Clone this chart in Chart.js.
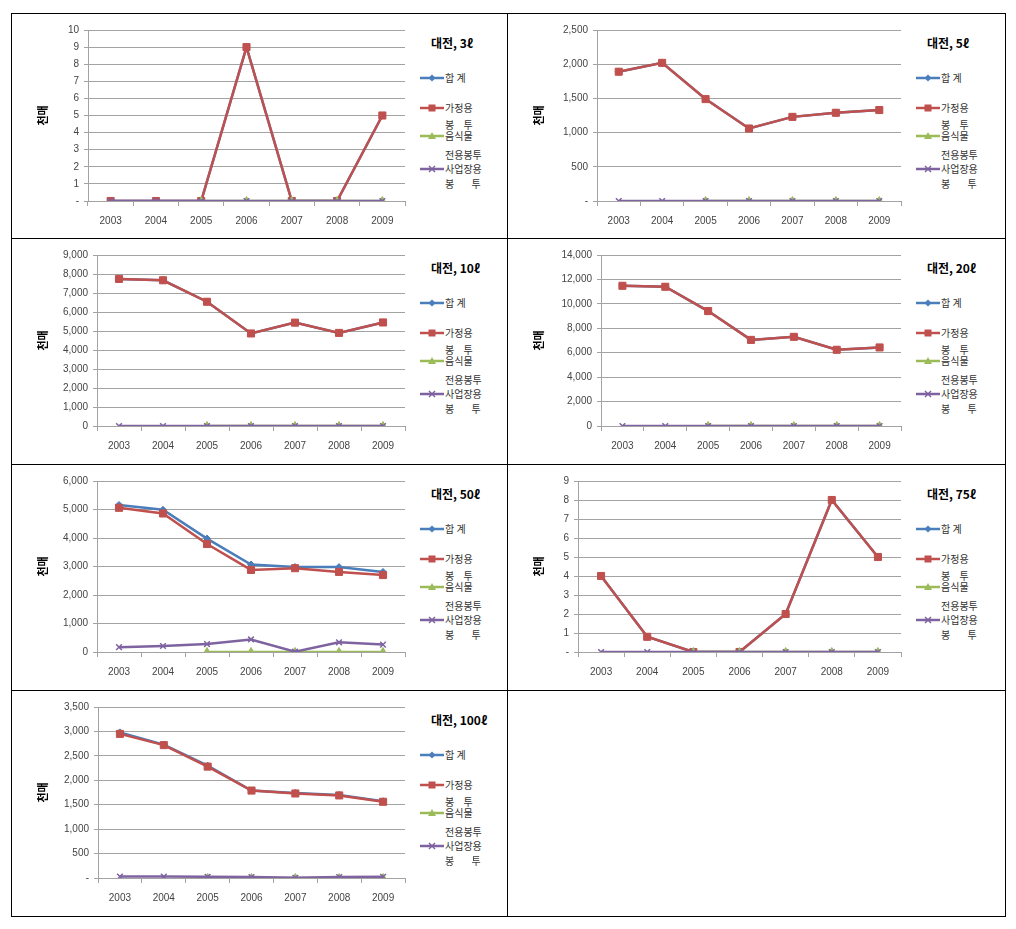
<!DOCTYPE html>
<html>
<head>
<meta charset="utf-8">
<script src="https://cdn.jsdelivr.net/npm/chart.js@4.4.1/dist/chart.umd.min.js"></script>
<style>
  html, body { margin:0; padding:0; background:#fff; }
  body { width:1016px; height:929px; position:relative; overflow:hidden; font-family:"Noto Sans CJK KR", "Liberation Sans", sans-serif; }
  .frame { position:absolute; left:11px; top:13px; width:995px; height:904px; border:1px solid #000; box-sizing:border-box; z-index:5; }
  .vline { position:absolute; width:1px; background:#000; z-index:5; }
  .hline { position:absolute; height:1px; background:#000; z-index:5; }
  .cell { position:absolute; width:496px; height:225px; }
  .cell canvas { position:absolute; left:0; top:0; }
  .ttl { position:absolute; left:420px; font-weight:bold; font-size:12px; color:#000; line-height:14px; white-space:nowrap; }
  .lt { position:absolute; left:434px; font-size:10px; color:#333; line-height:12px; white-space:nowrap; }
  .sym { position:absolute; left:409px; width:24px; height:12px; line-height:0; font-size:0; }
  .sym svg { display:block; }
</style>
</head>
<body>
<div class="frame"></div>
<div class="vline" style="left:507px; top:13px; height:904px;"></div>
<div class="hline" style="left:11px; top:238px; width:995px;"></div>
<div class="hline" style="left:11px; top:464px; width:995px;"></div>
<div class="hline" style="left:11px; top:690px; width:995px;"></div>
<div id="root"></div>
<script>
// ---------- data ----------
const years = ['2003', '2004', '2005', '2006', '2007', '2008', '2009'];
const seriesNames = ['합 계', '가정용 봉 투', '음식물 전용봉투', '사업장용 봉 투'];
const chartTitles = ['대전, 3ℓ', '대전, 5ℓ', '대전, 10ℓ', '대전, 20ℓ', '대전, 50ℓ', '대전, 75ℓ', '대전, 100ℓ'];
const yAxisTitle = '천매';
const yMax = [10, 2500, 9000, 14000, 6000, 9, 3500];
const yStep = [1, 500, 1000, 2000, 1000, 1, 500];
const zeroLabel = ['-', '-', '0', '0', '0', '-', '-'];

const total3 = [0, 0, 0, 9, 0, 0, 5];
const household3 = [0, 0, 0, 9, 0, 0, 5];
const food3 = [null, null, 0, 0, 0, 0, 0];
const business3 = [0, 0, 0, 0, 0, 0, 0];

const total5 = [1890, 2020, 1490, 1060, 1230, 1290, 1330];
const household5 = [1890, 2020, 1490, 1060, 1230, 1290, 1330];
const food5 = [null, null, 0, 0, 0, 0, 0];
const business5 = [0, 0, 0, 0, 0, 0, 0];

const total10 = [7740, 7670, 6540, 4870, 5440, 4900, 5450];
const household10 = [7740, 7670, 6540, 4870, 5440, 4900, 5450];
const food10 = [null, null, 0, 0, 0, 0, 0];
const business10 = [0, 0, 0, 0, 0, 0, 0];

const total20 = [11480, 11400, 9410, 7050, 7300, 6240, 6430];
const household20 = [11480, 11400, 9410, 7050, 7300, 6240, 6430];
const food20 = [null, null, 0, 0, 0, 0, 0];
const business20 = [0, 0, 0, 0, 0, 0, 0];

const total50 = [5160, 4990, 3980, 3070, 2980, 2980, 2810];
const household50 = [5060, 4860, 3790, 2880, 2940, 2810, 2700];
const food50 = [null, null, 0, 0, 0, 0, 0];
const business50 = [170, 210, 280, 440, 10, 340, 260];

const total75 = [4, 0.8, 0, 0, 2, 8, 5];
const household75 = [4, 0.8, 0, 0, 2, 8, 5];
const food75 = [null, null, 0, 0, 0, 0, 0];
const business75 = [0, 0, 0, 0, 0, 0, 0];

const total100 = [2980, 2730, 2300, 1790, 1740, 1700, 1570];
const household100 = [2950, 2720, 2280, 1790, 1730, 1690, 1560];
const food100 = [null, null, 0, 0, 0, 0, 0];
const business100 = [30, 30, 25, 20, 5, 20, 25];

const chartSeries = [
  [total3, household3, food3, business3],
  [total5, household5, food5, business5],
  [total10, household10, food10, business10],
  [total20, household20, food20, business20],
  [total50, household50, food50, business50],
  [total75, household75, food75, business75],
  [total100, household100, food100, business100]
];

// legend text as wrapped in the original
const legendLines = [['합 계'], ['가정용', '봉 투'], ['음식물', '전용봉투'], ['사업장용', '봉 투']];

// ---------- layout / style ----------
const cellLeft = [11, 507, 11, 507, 11, 507, 11];
const cellTop = [13, 13, 238, 238, 464, 464, 690];
const plotLeft = [77, 90, 86, 94, 86, 71, 87];
const legendY = [65, 95, 123, 156];
const legendY2 = [null, 112, 142, 171];
const legendWordSpacing = [0, 7, 0, 15];
const colors = ['#4A7EBB', '#C0504D', '#9BBB59', '#7E63A0'];
const pointStyles = ['rectRot', 'rect', 'triangle', 'crossRot'];
const pointRadii = [3.5, 5, 4.5, 4];
const drawOrder = [3, 2, 1, 0];
const gridColor = '#a3a3a3';
const numFont = '"Liberation Sans", Arial, sans-serif';
const korFont = '"Noto Sans CJK KR", sans-serif';

function symbolSVG(k) {
  const c = colors[k];
  let m = '';
  if (k === 0) m = `<polygon points="12,2.5 15.5,6 12,9.5 8.5,6" fill="${c}"/>`;
  if (k === 1) m = `<rect x="8.5" y="2.5" width="7" height="7" fill="${c}"/>`;
  if (k === 2) m = `<polygon points="12,2 16,9 8,9" fill="${c}"/>`;
  if (k === 3) m = `<path d="M9 3 L15 9 M15 3 L9 9" stroke="${c}" stroke-width="1.5"/>`;
  return `<svg width="24" height="12" viewBox="0 0 24 12"><line x1="0" y1="6" x2="24" y2="6" stroke="${c}" stroke-width="2.5"/>${m}</svg>`;
}

const root = document.getElementById('root');
chartTitles.forEach((title, i) => {
  const cell = document.createElement('div');
  cell.className = 'cell';
  cell.style.left = cellLeft[i] + 'px';
  cell.style.top = cellTop[i] + 'px';
  const cv = document.createElement('canvas');
  cv.width = 400; cv.height = 224;
  cv.style.width = '400px'; cv.style.height = '224px';
  cell.appendChild(cv);

  const t = document.createElement('div');
  t.className = 'ttl';
  t.style.top = (30 - 7) + 'px';
  t.textContent = title;
  cell.appendChild(t);

  legendLines.forEach((lines, k) => {
    const s = document.createElement('div');
    s.className = 'sym';
    s.style.top = (legendY[k] - 6) + 'px';
    s.innerHTML = symbolSVG(k);
    cell.appendChild(s);
    const a = document.createElement('div');
    a.className = 'lt';
    a.style.top = (legendY[k] - 6) + 'px';
    a.textContent = lines[0];
    cell.appendChild(a);
    if (lines[1]) {
      const b = document.createElement('div');
      b.className = 'lt';
      b.style.top = (legendY2[k] - 6) + 'px';
      b.style.wordSpacing = legendWordSpacing[k] + 'px';
      b.textContent = lines[1];
      cell.appendChild(b);
    }
  });
  root.appendChild(cell);

  const datasets = chartSeries[i].map((vals, k) => ({
    label: seriesNames[k],
    data: vals,
    borderColor: colors[k],
    backgroundColor: colors[k],
    borderWidth: 2.5,
    pointStyle: pointStyles[k],
    pointRadius: pointRadii[k],
    pointBackgroundColor: colors[k],
    pointBorderColor: colors[k],
    pointBorderWidth: k === 3 ? 1.5 : 1,
    tension: 0,
    order: drawOrder[k]
  }));

  new Chart(cv, {
    type: 'line',
    data: { labels: years, datasets },
    options: {
      responsive: false,
      animation: false,
      devicePixelRatio: 1,
      layout: { padding: { top: 17, right: 5, bottom: 0, left: 0 } },
      plugins: { legend: { display: false }, tooltip: { enabled: false }, title: { display: false } },
      scales: {
        x: {
          type: 'category',
          offset: true,
          grid: { display: true, offset: true, drawOnChartArea: false, drawTicks: true, tickLength: 5, color: gridColor },
          border: { display: true, color: gridColor, width: 1 },
          ticks: { font: { size: 10, family: numFont }, color: '#444', padding: 9, maxRotation: 0, autoSkip: false },
          afterFit: s => { s.height = 36; }
        },
        y: {
          min: 0,
          max: yMax[i],
          grid: { color: gridColor, tickLength: 4, drawTicks: true },
          border: { display: true, color: gridColor, width: 1 },
          ticks: {
            stepSize: yStep[i],
            font: { size: 10, family: numFont },
            color: '#444',
            padding: 5,
            callback: v => v === 0 ? zeroLabel[i] : v.toLocaleString('en-US')
          },
          title: { display: true, text: yAxisTitle, font: { size: 11, weight: 'bold', family: korFont }, color: '#000', padding: { top: 25, bottom: 0 } },
          afterFit: s => { s.width = plotLeft[i]; }
        }
      }
    }
  });
});
</script>
</body>
</html>
